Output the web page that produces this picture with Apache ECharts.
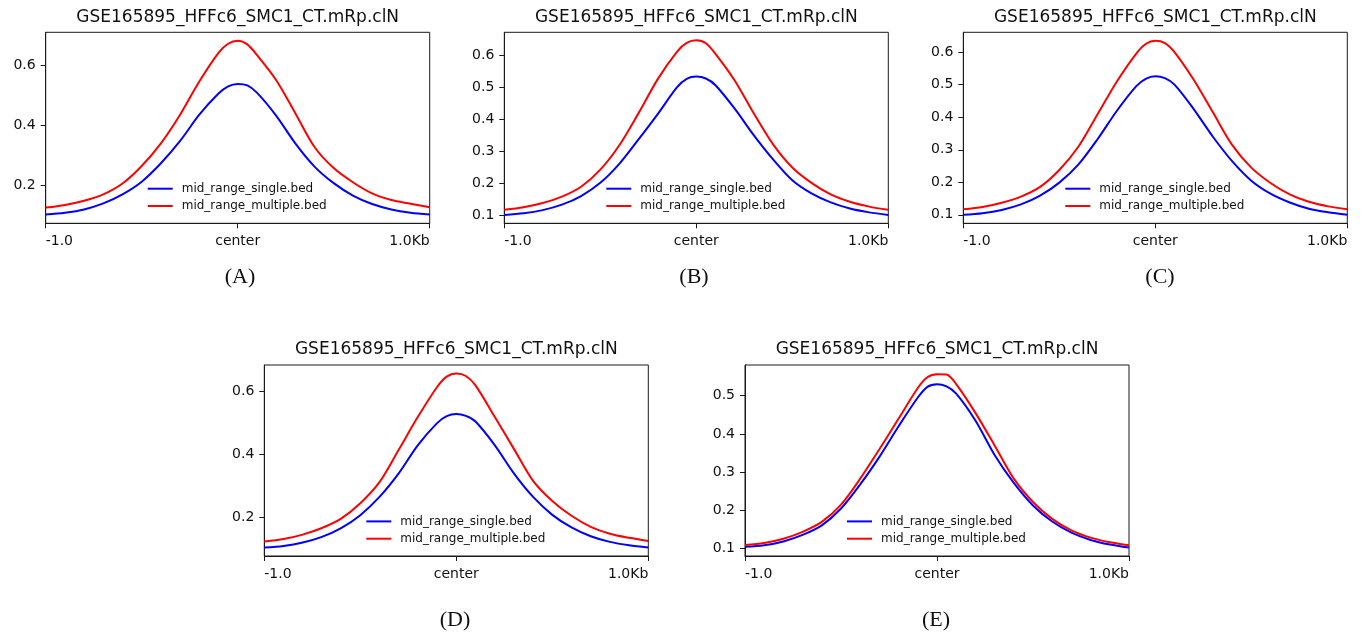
<!DOCTYPE html>
<html>
<head>
<meta charset="utf-8">
<script src="https://cdn.jsdelivr.net/npm/echarts@6/dist/echarts.min.js"></script>
<style>
html, body { margin: 0; padding: 0; background: #fff; }
#main { width: 1361px; height: 632px; }
</style>
</head>
<body>
<div id="main"></div>
<script>
// positions relative to the region center, in kb (denser around the summit)
const positions = [-1.0, -0.9, -0.8, -0.7, -0.6, -0.5, -0.4, -0.3, -0.2, -0.1, -0.05, 0, 0.05, 0.1, 0.2, 0.3, 0.4, 0.5, 0.6, 0.7, 0.8, 0.9, 1.0]

// profile values
const singleA   = [0.104, 0.110, 0.121, 0.141, 0.171, 0.213, 0.274, 0.348, 0.435, 0.505, 0.529, 0.537, 0.532, 0.508, 0.432, 0.340, 0.263, 0.208, 0.167, 0.139, 0.121, 0.110, 0.104]
const multipleA = [0.127, 0.136, 0.150, 0.171, 0.207, 0.265, 0.340, 0.435, 0.545, 0.640, 0.670, 0.680, 0.668, 0.633, 0.550, 0.440, 0.328, 0.258, 0.211, 0.174, 0.152, 0.140, 0.128]
const singleB   = [0.102, 0.107, 0.117, 0.134, 0.161, 0.202, 0.262, 0.338, 0.417, 0.500, 0.526, 0.533, 0.527, 0.506, 0.433, 0.350, 0.275, 0.210, 0.169, 0.141, 0.122, 0.110, 0.102]
const multipleB = [0.118, 0.126, 0.139, 0.159, 0.190, 0.243, 0.320, 0.420, 0.526, 0.611, 0.638, 0.646, 0.637, 0.604, 0.521, 0.418, 0.322, 0.250, 0.202, 0.166, 0.143, 0.128, 0.118]
const singleC   = [0.100, 0.105, 0.115, 0.132, 0.159, 0.199, 0.255, 0.333, 0.420, 0.495, 0.518, 0.526, 0.520, 0.500, 0.425, 0.340, 0.265, 0.205, 0.165, 0.138, 0.119, 0.108, 0.100]
const multipleC = [0.117, 0.124, 0.137, 0.156, 0.186, 0.238, 0.310, 0.410, 0.510, 0.595, 0.625, 0.635, 0.628, 0.600, 0.515, 0.415, 0.315, 0.245, 0.198, 0.163, 0.140, 0.126, 0.117]
const singleD   = [0.104, 0.109, 0.120, 0.138, 0.166, 0.207, 0.265, 0.340, 0.430, 0.500, 0.522, 0.529, 0.523, 0.505, 0.430, 0.340, 0.265, 0.208, 0.168, 0.140, 0.122, 0.111, 0.104]
const multipleD = [0.123, 0.131, 0.145, 0.166, 0.196, 0.245, 0.312, 0.415, 0.520, 0.615, 0.648, 0.658, 0.650, 0.620, 0.520, 0.418, 0.316, 0.252, 0.205, 0.170, 0.148, 0.135, 0.125]
const singleE   = [0.105, 0.109, 0.119, 0.136, 0.161, 0.205, 0.268, 0.340, 0.420, 0.495, 0.523, 0.530, 0.524, 0.505, 0.435, 0.345, 0.272, 0.213, 0.171, 0.142, 0.123, 0.111, 0.103]
const multipleE = [0.110, 0.115, 0.126, 0.144, 0.170, 0.215, 0.283, 0.360, 0.440, 0.520, 0.548, 0.556, 0.555, 0.530, 0.455, 0.370, 0.283, 0.222, 0.178, 0.148, 0.129, 0.117, 0.109]

// tick labels
const xTickValues = [-1, 0, 1]
const xTickLabels = ['-1.0', 'center', '1.0Kb']
const yTicksA = [0.2, 0.4, 0.6]
const yTicksB = [0.1, 0.2, 0.3, 0.4, 0.5, 0.6]
const yTicksC = [0.1, 0.2, 0.3, 0.4, 0.5, 0.6]
const yTicksD = [0.2, 0.4, 0.6]
const yTicksE = [0.1, 0.2, 0.3, 0.4, 0.5]

const titleText = 'GSE165895_HFFc6_SMC1_CT.mRp.clN'
const seriesNames = ['mid_range_single.bed', 'mid_range_multiple.bed']

const panels = [
  { cap: '(A)', single: singleA, multiple: multipleA, ticks: yTicksA, min: 0.075, max: 0.708, left: 45.7, top: 32.3, capX: 240, capY: 277 },
  { cap: '(B)', single: singleB, multiple: multipleB, ticks: yTicksB, min: 0.076, max: 0.671, left: 504.3, top: 32.3, capX: 694, capY: 277 },
  { cap: '(C)', single: singleC, multiple: multipleC, ticks: yTicksC, min: 0.074, max: 0.661, left: 963.3, top: 32.3, capX: 1160, capY: 277 },
  { cap: '(D)', single: singleD, multiple: multipleD, ticks: yTicksD, min: 0.077, max: 0.685, left: 264.3, top: 365, capX: 455, capY: 620 },
  { cap: '(E)', single: singleE, multiple: multipleE, ticks: yTicksE, min: 0.081, max: 0.580, left: 745, top: 365, capX: 936, capY: 620 }
]

const W = 384, H = 191
const ink = '#1a1a1a'
const font = 'DejaVu Sans'

const grid = [], xAxis = [], yAxis = [], series = [], legend = [], graphic = []

panels.forEach((p, i) => {
  grid.push({
    left: p.left, top: p.top, width: W, height: H,
    show: true, borderColor: ink, borderWidth: 1
  })
  xAxis.push({
    type: 'value', gridIndex: i, min: -1, max: 1,
    splitLine: { show: false },
    axisLine: { onZero: false, lineStyle: { color: ink, width: 1 } },
    axisTick: { customValues: xTickValues, length: 5, lineStyle: { color: ink } },
    axisLabel: {
      customValues: xTickValues,
      formatter: v => xTickLabels[xTickValues.indexOf(v)],
      alignMinLabel: 'left', alignMaxLabel: 'right',
      margin: 11, fontSize: 14, lineHeight: 14, color: '#111', fontFamily: font
    }
  })
  yAxis.push({
    type: 'value', gridIndex: i, min: p.min, max: p.max,
    splitLine: { show: false },
    axisLine: { show: true, onZero: false, lineStyle: { color: ink, width: 1 } },
    axisTick: { show: true, customValues: p.ticks, length: 5, lineStyle: { color: ink } },
    axisLabel: {
      customValues: p.ticks,
      formatter: v => v.toFixed(1),
      margin: 10, fontSize: 14, color: '#111', fontFamily: font
    }
  })
  series.push({
    type: 'line', name: seriesNames[0], xAxisIndex: i, yAxisIndex: i,
    data: positions.map((x, k) => [x, p.single[k]]),
    symbol: 'none', smooth: 0.3,
    lineStyle: { color: '#0000ff', width: 2 }, itemStyle: { color: '#0000ff' }
  })
  series.push({
    type: 'line', name: seriesNames[1], xAxisIndex: i, yAxisIndex: i,
    data: positions.map((x, k) => [x, p.multiple[k]]),
    symbol: 'none', smooth: 0.3,
    lineStyle: { color: '#ff0000', width: 2 }, itemStyle: { color: '#ff0000' }
  })
  legend.push({
    data: seriesNames, orient: 'vertical',
    left: p.left + 102, top: p.top + 149.4, padding: 0,
    icon: 'rect', itemWidth: 25, itemHeight: 2, itemGap: 3.3,
    selectedMode: false,
    textStyle: { fontSize: 12, lineHeight: 14, color: '#111', fontFamily: font, padding: [0, 0, 0, 4] }
  })
  graphic.push({
    type: 'text', x: p.left + W / 2, y: p.top - 15,
    style: { text: titleText, font: '17px "DejaVu Sans"', fill: '#111', align: 'center', verticalAlign: 'middle' }
  })
  graphic.push({
    type: 'text', x: p.capX, y: p.capY,
    style: { text: p.cap, font: '22px "Liberation Serif"', fill: '#111', align: 'center', verticalAlign: 'middle' }
  })
})

const chart = echarts.init(document.getElementById('main'))
chart.setOption({
  animation: false,
  backgroundColor: '#fff',
  grid, xAxis, yAxis, series, legend, graphic
})
</script>
</body>
</html>
